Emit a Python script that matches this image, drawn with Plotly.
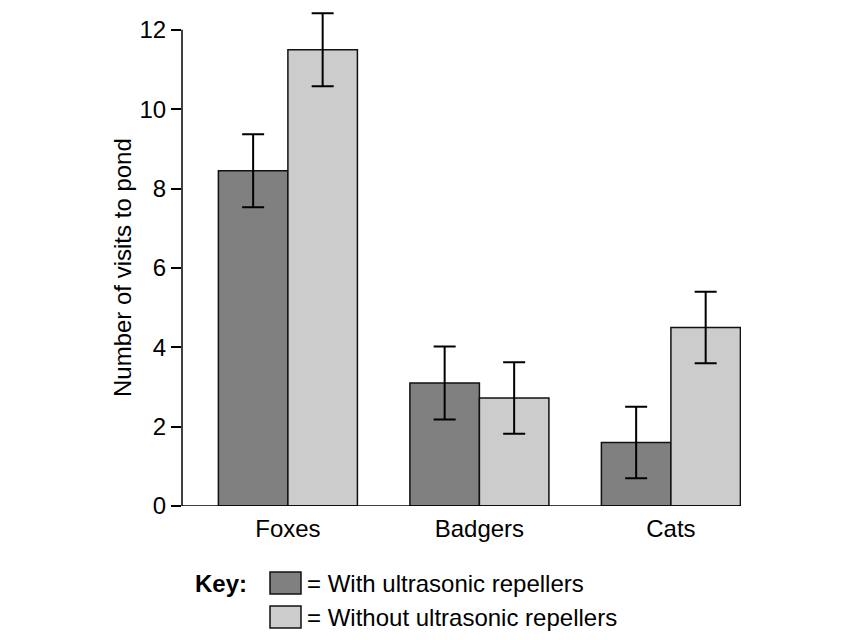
import plotly.graph_objects as go

categories = ["Foxes", "Badgers", "Cats"]
with_repellers = [8.45, 3.1, 1.6]
with_err = [0.92, 0.92, 0.9]
without_repellers = [11.5, 2.72, 4.5]
without_err = [0.92, 0.9, 0.9]
series_names = ["= With ultrasonic repellers", "= Without ultrasonic repellers"]
y_ticks = [0, 2, 4, 6, 8, 10, 12]

DARK = "#808080"
LIGHT = "#cccccc"
FONT = "Liberation Sans, Arial, sans-serif"
FS = 24

fig = go.Figure()
for vals, errs, col, name in [(with_repellers, with_err, DARK, series_names[0]),
                              (without_repellers, without_err, LIGHT, series_names[1])]:
    fig.add_trace(go.Bar(
        x=categories, y=vals, name=name,
        marker=dict(color=col, line=dict(color="#111111", width=1.5)),
        error_y=dict(type="data", array=errs, visible=True, color="black",
                     thickness=2, width=11),
        cliponaxis=False, showlegend=False,
    ))

fig.update_layout(
    width=856, height=640,
    margin=dict(l=174, r=123, t=2, b=142),
    plot_bgcolor="white", paper_bgcolor="white",
    barmode="group", bargap=0.274, bargroupgap=0,
    font=dict(family=FONT, size=FS, color="black"),
    xaxis=dict(range=[-0.553, 2.366], showline=False, showgrid=False,
               zeroline=False, ticks="", tickfont=dict(size=FS),
               ticklabelstandoff=6),
    yaxis=dict(range=[0, 12.5], tickvals=y_ticks, ticks="outside", ticklen=10,
               tickwidth=1.5, tickcolor="black", showline=False, showgrid=False,
               zeroline=False, tickfont=dict(size=FS)),
    showlegend=False,
)

# axis lines (R-style: y line only spans tick range)
fig.add_shape(type="line", xref="paper", yref="y", x0=0, x1=0, y0=0, y1=12,
              line=dict(color="black", width=1.5))
fig.add_shape(type="line", xref="paper", yref="y", x0=0, x1=1, y0=0, y1=0,
              line=dict(color="black", width=1.5))

# key (positions in reference pixel coordinates converted to paper coords)
W, H = 559.0, 496.0
def px(x):
    return (x - 182) / W
def py(y):
    return (506 - y) / H

fig.add_annotation(text="Number of visits to pond", xref="paper", yref="paper",
                   x=px(122), y=py(268), textangle=-90, showarrow=False,
                   xanchor="center", yanchor="middle", font=dict(size=FS))

fig.add_annotation(text="<b>Key:</b>", xref="paper", yref="paper",
                   x=px(193), y=py(583), xanchor="left", yanchor="middle",
                   showarrow=False, font=dict(size=FS))
for (y0, y1), col, name in [((572, 594), DARK, series_names[0]),
                            ((606, 628), LIGHT, series_names[1])]:
    fig.add_shape(type="rect", xref="paper", yref="paper",
                  x0=px(270), x1=px(301), y0=py(y1), y1=py(y0),
                  fillcolor=col, line=dict(color="#111111", width=1.5))
    fig.add_annotation(text=name, xref="paper", yref="paper",
                       x=px(305), y=py((y0 + y1) / 2), xanchor="left",
                       yanchor="middle", showarrow=False, font=dict(size=FS))

fig.write_html("out.html")
